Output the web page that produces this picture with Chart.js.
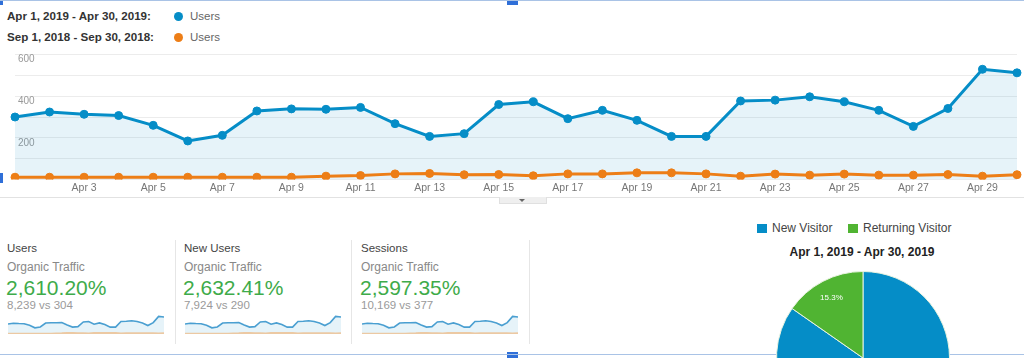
<!DOCTYPE html>
<html><head><meta charset="utf-8">
<script src="https://cdn.jsdelivr.net/npm/chart.js@4.4.1/dist/chart.umd.min.js"></script>
<style>
html,body{margin:0;padding:0;width:1024px;height:358px;overflow:hidden;background:#fff;font-family:"Liberation Sans",Arial,sans-serif;}
.abs{position:absolute;white-space:nowrap;}
.lg{font-size:11.6px;line-height:14px;color:#333;font-weight:bold;}
.lgu{font-size:11.5px;line-height:14px;color:#666;}
.dot{width:9px;height:9px;border-radius:50%;}
.t1{font-size:11.5px;line-height:14px;color:#444;}
.t2{font-size:12px;line-height:14px;color:#888;}
.t3{font-size:21px;line-height:24px;color:#3eab4a;}
.t4{font-size:11.5px;line-height:14px;color:#9a9a9a;}
.sep{width:1px;background:#e6e6e6;top:240px;height:104px;}
.sq{width:10px;height:9px;}
.pl{font-size:12px;line-height:14px;color:#444;}
.hd{background:#2f6fd8;}
</style></head><body>
<div id="root"></div>
<canvas id="main" class="abs" style="left:0;top:40px" width="1024" height="165"></canvas>
<div class="abs" style="left:0;top:197px;width:1024px;height:1px;background:#e2e2e2"></div>
<div class="abs" style="left:499px;top:197px;width:46px;height:6px;background:#efefef;border:1px solid #e0e0e0;border-top:none"></div>
<div class="abs" style="left:519px;top:199px;width:0;height:0;border-left:3px solid transparent;border-right:3px solid transparent;border-top:3px solid #666"></div>
<div class="abs" style="left:0;top:354px;width:1024px;height:1px;background:#a9c3e6"></div>
<div class="abs" style="left:0;top:0;width:1024px;height:1px;background:#a9c3e6"></div>
<canvas id="pie" class="abs" style="left:776px;top:271px" width="174" height="174"></canvas>
<script>
// ---- data ----
const days = ['Apr 1','Apr 2','Apr 3','Apr 4','Apr 5','Apr 6','Apr 7','Apr 8','Apr 9','Apr 10','Apr 11','Apr 12','Apr 13','Apr 14','Apr 15','Apr 16','Apr 17','Apr 18','Apr 19','Apr 20','Apr 21','Apr 22','Apr 23','Apr 24','Apr 25','Apr 26','Apr 27','Apr 28','Apr 29','Apr 30'];
const usersApr2019 = [300,324,313,307,260,185,212,329,339,337,346,268,207,220,360,373,292,332,284,207,207,377,381,397,373,332,255,341,529,512];
const usersSep2018 = [11,11,11,11,11,11,11,11,11,16,19,27,29,23,24,18,27,27,32,32,27,16,26,21,26,21,21,24,16,23];
const xTickLabels = ['Apr 3','Apr 5','Apr 7','Apr 9','Apr 11','Apr 13','Apr 15','Apr 17','Apr 19','Apr 21','Apr 23','Apr 25','Apr 27','Apr 29'];
const yTickLabels = [200,400,600];
const rangeLabels = ['Apr 1, 2019 - Apr 30, 2019:','Sep 1, 2018 - Sep 30, 2018:'];
const seriesName = 'Users';
const metrics = ['Users','New Users','Sessions'];
const segmentName = 'Organic Traffic';
const changes = ['2,610.20%','2,632.41%','2,597.35%'];
const comparisons = ['8,239 vs 304','7,924 vs 290','10,169 vs 377'];
const visitorTypes = ['New Visitor','Returning Visitor'];
const visitorShare = [84.7,15.3];
const pieTitle = 'Apr 1, 2019 - Apr 30, 2019';

const BLUE='#058dc7', ORANGE='#ed7e17', GREEN='#50b432';
const FONT='"Liberation Sans", Arial, sans-serif';
Chart.defaults.font.family = FONT;

const root = document.getElementById('root');
function add(html){ root.insertAdjacentHTML('beforeend', html); }

// top legend
const legendColors=[BLUE,ORANGE];
rangeLabels.forEach((r,i)=>{
  const cy = 16 + i*21;
  add(`<div class="abs lg" style="left:7px;top:${cy-7}px">${r}</div>`);
  add(`<div class="abs dot" style="left:174px;top:${cy-4.5}px;background:${legendColors[i]}"></div>`);
  add(`<div class="abs lgu" style="left:190px;top:${cy-7}px">${seriesName}</div>`);
});

// scorecards
const colLeft=[7,184,361];
const sepX=[175,351,529];
metrics.forEach((m,i)=>{
  const x=colLeft[i];
  add(`<div class="abs t1" style="left:${x}px;top:241px">${m}</div>`);
  add(`<div class="abs t2" style="left:${x}px;top:260px">${segmentName}</div>`);
  add(`<div class="abs t3" style="left:${x-1}px;top:276px">${changes[i]}</div>`);
  add(`<div class="abs t4" style="left:${x}px;top:298px">${comparisons[i]}</div>`);
  add(`<canvas id="sp${i}" class="abs" style="left:${x+1}px;top:314px" width="156" height="22"></canvas>`);
  add(`<div class="abs sep" style="left:${sepX[i]}px"></div>`);
});

// pie legend & title
const pieColors=[BLUE,GREEN];
const pieLegX=[757,848];
visitorTypes.forEach((v,i)=>{
  add(`<div class="abs sq" style="left:${pieLegX[i]}px;top:224px;background:${pieColors[i]}"></div>`);
  add(`<div class="abs pl" style="left:${pieLegX[i]+15}px;top:221px">${v}</div>`);
});
add(`<div class="abs" style="left:761px;width:202px;text-align:center;top:245px;font-size:12px;line-height:14px;font-weight:bold;color:#222">${pieTitle}</div>`);

// selection handles
add(`<div class="abs hd" style="left:507px;top:0;width:11px;height:5px"></div>`);
add(`<div class="abs hd" style="left:507px;top:352px;width:11px;height:6px"></div>`);
add(`<div class="abs hd" style="left:0;top:173px;width:3px;height:10px"></div>`);
add(`<div class="abs hd" style="left:0;top:0;width:3px;height:5px"></div>`);

// main chart
new Chart(document.getElementById('main'),{
  type:'line',
  data:{labels:days,datasets:[
    {label:rangeLabels[0]+' '+seriesName,data:usersApr2019,borderColor:BLUE,backgroundColor:'rgba(5,141,199,0.1)',fill:'origin',borderWidth:3,pointRadius:4,pointBackgroundColor:BLUE,pointBorderColor:BLUE,pointBorderWidth:1,tension:0,order:1},
    {label:rangeLabels[1]+' '+seriesName,data:usersSep2018,borderColor:ORANGE,backgroundColor:ORANGE,fill:false,borderWidth:3,pointRadius:4,pointBackgroundColor:ORANGE,pointBorderColor:ORANGE,pointBorderWidth:1,tension:0,order:0}
  ]},
  options:{
    responsive:false,animation:false,devicePixelRatio:1,
    layout:{padding:{left:9,right:7,top:14.5,bottom:8.9}},
    plugins:{legend:{display:false},tooltip:{enabled:false}},
    scales:{
      x:{grid:{display:false,drawTicks:false},border:{display:false},
         ticks:{autoSkip:false,maxRotation:0,minRotation:0,padding:2,color:'#777',font:{size:10.5},
                callback:(v,i)=> xTickLabels.includes(days[i])?days[i]:''}},
      y:{min:0,max:600,grid:{color:'#ececec',drawTicks:false},border:{display:false},
         ticks:{stepSize:100,mirror:true,padding:3,labelOffset:5,color:'#999',font:{size:10},
                callback:(v)=> yTickLabels.includes(v)?String(v):''}}
    }
  }
});

// sparklines
metrics.forEach((m,i)=>{
  new Chart(document.getElementById('sp'+i),{
    type:'line',
    data:{labels:days,datasets:[
      {data:usersApr2019,borderColor:'#4a9fd1',backgroundColor:'rgba(5,141,199,0.1)',fill:'origin',borderWidth:1.6,pointRadius:0,tension:0,order:1},
      {data:usersSep2018,borderColor:'#ecc9a3',borderWidth:2,pointRadius:0,fill:false,tension:0,order:0}
    ]},
    options:{responsive:false,animation:false,devicePixelRatio:1,
      layout:{padding:{top:0,bottom:2,left:0,right:0}},
      plugins:{legend:{display:false},tooltip:{enabled:false}},
      scales:{x:{display:false},y:{display:false,min:0,max:600}}}
  });
});

// pie
const pieLabelPlugin={id:'pieLabels',afterDatasetsDraw(chart){
  const ctx=chart.ctx; const meta=chart.getDatasetMeta(0);
  meta.data.forEach((arc,i)=>{
    const a=(arc.startAngle+arc.endAngle)/2; const r=arc.outerRadius*0.79;
    ctx.save(); ctx.fillStyle='#fff'; ctx.font='8px '+FONT; ctx.textAlign='center'; ctx.textBaseline='middle';
    ctx.fillText(visitorShare[i].toFixed(1)+'%',arc.x+Math.cos(a)*r,arc.y+Math.sin(a)*r); ctx.restore();
  });
}};
new Chart(document.getElementById('pie'),{
  type:'pie',
  data:{labels:visitorTypes,datasets:[{data:visitorShare,backgroundColor:pieColors,borderColor:'#e8f3e0',borderWidth:1}]},
  options:{responsive:false,animation:false,devicePixelRatio:1,layout:{padding:0},
    plugins:{legend:{display:false},tooltip:{enabled:false}}},
  plugins:[pieLabelPlugin]
});
</script>
</body></html>
